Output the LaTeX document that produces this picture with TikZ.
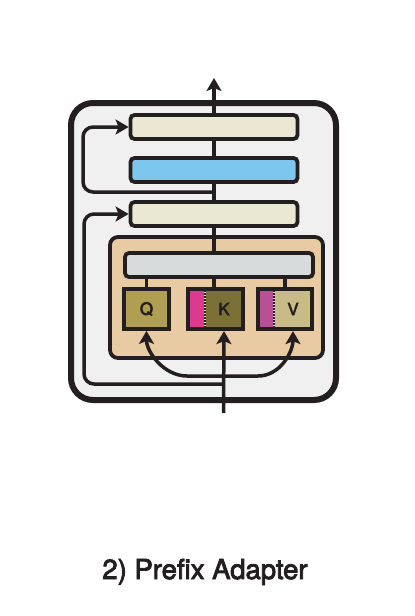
\documentclass[tikz,border=0pt]{standalone}
\usepackage{fontspec}
\setmainfont{TeX Gyre Heros}
\newfontfamily\labelfont{TeX Gyre Heros}[FakeBold=3]
\usetikzlibrary{arrows.meta,positioning,calc,fit}
\definecolor{linegray}{RGB}{35,31,32}
\definecolor{outerfill}{RGB}{240,240,240}
\definecolor{lnbeige}{RGB}{234,232,210}
\definecolor{ffnblue}{RGB}{125,198,238}
\definecolor{attnorange}{RGB}{232,203,163}
\definecolor{projgray}{RGB}{216,219,220}
\definecolor{qolive}{RGB}{176,158,82}
\definecolor{kolive}{RGB}{123,113,55}
\definecolor{volive}{RGB}{200,187,133}
\definecolor{kpink}{RGB}{220,58,140}
\definecolor{vpink}{RGB}{185,79,149}

\begin{document}
\begin{tikzpicture}[x=1pt,y=-1pt,
    blk/.style={draw=linegray,line width=3.8pt,rounded corners=4pt,inner sep=0pt,minimum height=24pt,minimum width=167pt},
    qkv/.style={inner sep=0pt,minimum height=40pt,font=\labelfont\fontsize{17}{17}\selectfont,text=linegray},
    frame/.style={draw=linegray,line width=3.8pt,inner sep=0pt},
    conn/.style={draw=linegray,line width=3.5pt},
    arr/.style={conn,-{Stealth[length=13pt,width=15pt,inset=3pt]}},
    res/.style={arr,rounded corners=10pt}]
        \useasboundingbox (0,0) rectangle (415,616);

        % outer block
        \node[draw=linegray,fill=outerfill,line width=6pt,rounded corners=22pt,minimum width=265pt,minimum height=297pt] (outer) at (203.5,251.5) {};

        % norm and feed forward
        \node[blk,fill=lnbeige] (ln1) at (214,127) {};
        \node[blk,fill=ffnblue] (ffn) at (214,170) {};
        \node[blk,fill=lnbeige] (ln2) at (214,214) {};

        % attention
        \node[draw=linegray,fill=attnorange,line width=3.8pt,rounded corners=8pt,minimum width=213pt,minimum height=121pt] (attn) at (216.5,297.5) {};
        \node[blk,fill=projgray,minimum width=188pt] (proj) at (219,265) {};

        % query, key, value
        \node[qkv,frame,fill=qolive,minimum width=45pt] (q) at (146.5,309) {Q};
        \node[qkv,fill=kpink,minimum width=17pt] (kp) at (196.5,309) {};   % prefix
        \node[qkv,fill=kolive,minimum width=38pt] (k) at (224,309) {K};
        \node[qkv,fill=vpink,minimum width=16pt] (vp) at (266,309) {};     % prefix
        \node[qkv,fill=volive,minimum width=38pt] (v) at (293,309) {V};
        \draw[linegray,line width=1.5pt] (kp.north east) -- (kp.south east);
        \draw[lnbeige,line width=1.5pt,dash pattern=on 1.5pt off 1.5pt] (kp.north east) -- (kp.south east);
        \draw[linegray,line width=1.5pt] (vp.north east) -- (vp.south east);
        \draw[lnbeige,line width=1.5pt,dash pattern=on 1.5pt off 1.5pt] (vp.north east) -- (vp.south east);
        \node[frame,fit=(kp)(k)] (kbox) {};
        \node[frame,fit=(vp)(v)] (vbox) {};

        % connectors
        \draw[conn] (q.north) -- (q.north |- proj.south);
        \draw[conn] (ln2.south |- kbox.north) -- (ln2.south |- proj.south);
        \draw[conn] (vbox.north) -- (vbox.north |- proj.south);
        \draw[conn] (ln2.south |- proj.north) -- (ln2.south);
        \draw[conn] (ln2.north) -- (ffn.south);
        \draw[conn] (ffn.north) -- (ln1.south);
        \coordinate (out) at (214,78);
        \draw[arr] (ln1.north) -- (out);

        % input
        \coordinate (in) at (223.5,413);
        \coordinate (split) at (223.5,376);
        \draw[arr] (in) -- (k.south |- kbox.south);
        \draw[arr] (split) -- (187,376) .. controls (164,376) and (146.5,352) .. (q.south);
        \draw[arr] (split) -- (258,376) .. controls (280,376) and (293,352) .. (v.south |- vbox.south);

        % residuals
        \coordinate (r1) at ($(ffn.south)!0.5!(ln2.north)$);
        \coordinate (skip1) at (83,160);
        \draw[res] (r1) -| (skip1) |- (ln1.west);
        \coordinate (r2) at (223.5,384);
        \coordinate (skip2) at (84,300);
        \draw[res] (r2) -| (skip2) |- (ln2.west);

        \node[anchor=base,font=\labelfont\fontsize{27.5}{30}\selectfont,text=linegray] (title) at (205,579) {2) Prefix Adapter};
\end{tikzpicture}
\end{document}
